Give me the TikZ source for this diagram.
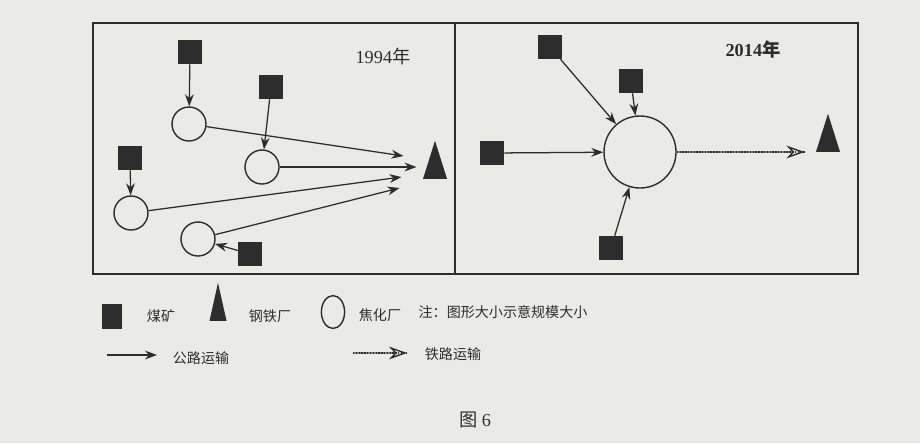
\documentclass[tikz,border=0pt]{standalone}
\usepackage{fontspec}
\setmainfont{Liberation Serif}
\newfontfamily\cjk{Noto Sans CJK SC}
\usetikzlibrary{arrows.meta, positioning, shapes.geometric}
\definecolor{page-gray}{RGB}{234, 234, 232}
\definecolor{ink}{RGB}{45, 45, 45}

\begin{document}
\begin{tikzpicture}[
  x=0.025cm, y=-0.025cm,
  mine/.style={rectangle,fill=ink,minimum size=0.6cm,inner sep=0},
  coke/.style={circle,draw=ink,line width=1pt,minimum size=0.85cm,inner sep=0},
  steel/.style={isosceles triangle,isosceles triangle stretches,shape border rotate=90,
                fill=ink,minimum width=0.6cm,minimum height=0.95cm,inner sep=0},
  road/.style={-{Stealth[length=3mm,width=2.2mm]},line width=0.9pt,draw=ink},
  rail/.style={-{Stealth[open,color=ink,length=4.5mm,width=3.2mm,line width=1pt]},line width=1.6pt,draw=ink!60,
               postaction={draw=ink,arrows=-,line width=1.6pt,dash pattern=on 1pt off 1pt}},
  txt/.style={font=\cjk\fontsize{10}{12}\selectfont,text=ink,inner sep=0}
]
  \fill[page-gray] (0,0) rectangle (920,443);
  \draw[ink,line width=1.2pt] (93,23) rectangle (858,274);
  \draw[ink,line width=1.2pt] (455,23) -- (455,274);

  % 1994
  \node[font=\fontsize{13}{15}\selectfont,text=ink] (yearA) at (383,57) {1994{\cjk 年}};
  \node[mine] (mineA) at (190,52) {};
  \node[mine] (mineB) at (271,87) {};
  \node[mine] (mineC) at (130,158) {};
  \node[mine] (mineD) at (250,254) {};
  \node[coke] (cokeA) at (189,124) {};
  \node[coke] (cokeB) at (262,167) {};
  \node[coke] (cokeC) at (131,213) {};
  \node[coke] (cokeD) at (198,239) {};
  \node[steel] (steelA) at (435,170) {};

  \draw[road] (mineA) -- (cokeA);
  \draw[road] (mineB) -- (cokeB);
  \draw[road] (mineC) -- (cokeC);
  \draw[road] (mineD) -- (cokeD);
  \draw[road] (cokeA) -- ([shift={(-22,-14)}]steelA.west);
  \draw[road] (cokeB) -- ([shift={(-9,-3)}]steelA.west);
  \draw[road] (cokeC) -- ([shift={(-24,7)}]steelA.west);
  \draw[road] (cokeD) -- ([shift={(-26,18)}]steelA.west);

  % 2014
  \node[font=\bfseries\fontsize{13}{15}\selectfont,text=ink] (yearB) at (753,50) {2014{\cjk 年}};
  \node[mine] (mineE) at (550,47) {};
  \node[mine] (mineF) at (631,81) {};
  \node[mine] (mineG) at (492,153) {};
  \node[mine] (mineH) at (611,248) {};
  \node[coke,minimum size=1.8cm] (bigcoke) at (640,152) {};
  \node[steel] (steelB) at (828,143) {};

  \draw[road] (mineE) -- (bigcoke);
  \draw[road] (mineF) -- (bigcoke);
  \draw[road] (mineG) -- (bigcoke);
  \draw[road] (mineH) -- (bigcoke);
  \draw[rail,shorten >=0.35cm] (bigcoke.east) -- (bigcoke.east -| steelB.west);

  % legend
  \node[mine,minimum width=0.475cm,minimum height=0.625cm] (keyMine) at (112,316) {};
  \node[txt] (keyMineTxt) at (161,316) {煤矿};
  \node[steel,minimum width=0.425cm] (keySteel) at (218,314) {};
  \node[txt] (keySteelTxt) at (270,316) {钢铁厂};
  \node[ellipse,draw=ink,line width=1pt,minimum width=0.58cm,minimum height=0.82cm,inner sep=0]
       (keyCoke) at (333,312) {};
  \node[txt] (keyCokeTxt) at (380,315) {焦化厂};
  \node[txt] (note) at (503,312) {注：图形大小示意规模大小};

  \coordinate (roadL) at (107,355);
  \coordinate (roadR) at (157,355);
  \draw[road] (roadL) -- (roadR);
  \node[txt] (keyRoadTxt) at (201,358) {公路运输};
  \coordinate (railL) at (353,353);
  \coordinate (railR) at (407,353);
  \draw[rail] (railL) -- (railR);
  \node[txt] (keyRailTxt) at (453,354) {铁路运输};

  \node[font=\fontsize{13}{15}\selectfont,text=ink] (caption) at (475,420) {{\cjk 图} 6};
\end{tikzpicture}
\end{document}
